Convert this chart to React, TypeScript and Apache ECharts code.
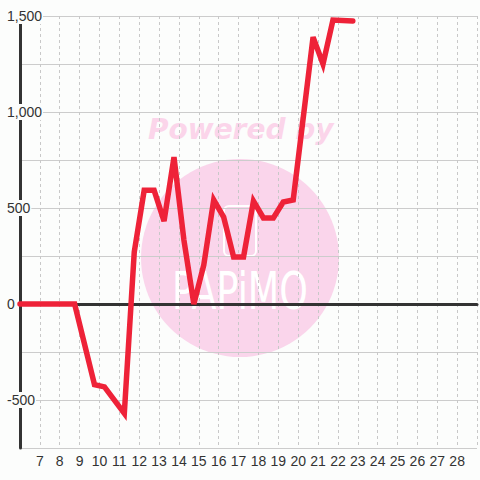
import React, { useEffect, useRef } from "react";
import * as echarts from "echarts";

const xValues = [6, 8.75, 9.75, 10.25, 11.25, 11.75, 12.25, 12.75, 13.25, 13.75, 14.25, 14.75, 15.25, 15.75, 16.25, 16.75, 17.25, 17.75, 18.25, 18.75, 19.25, 19.75, 20.75, 21.25, 21.75, 22.75];
const yValues = [0, 0, -420, -432, -570, 270, 592, 592, 432, 765, 333, 0, 203, 542, 453, 245, 245, 536, 448, 448, 531, 542, 1390, 1250, 1479, 1474];
const yLabelValues = [-500, 0, 500, 1000, 1500];
const xLabelValues = [7, 8, 9, 10, 11, 12, 13, 14, 15, 16, 17, 18, 19, 20, 21, 22, 23, 24, 25, 26, 27, 28];

const BG = "#fcfdfc";

export default function App() {
  const ref = useRef<HTMLDivElement>(null);
  useEffect(() => {
    if (!ref.current) return;
    const chart = echarts.init(ref.current, null, { renderer: "svg" });
    const data = xValues.map((x, i) => [x, yValues[i]]);
    chart.setOption({
      animation: false,
      backgroundColor: BG,
      textStyle: { fontFamily: "Liberation Sans" },
      grid: { left: 20, right: 0, top: 16, bottom: 32, containLabel: false },
      graphic: [
        { type: "circle", z: -1, shape: { cx: 240, cy: 258, r: 99 }, style: { fill: "#fad5eb" } },
        {
          type: "text", z: -1, x: 148, y: 143,
          style: { text: "Powered by", fill: "#fbd5ea", fontSize: 28, fontWeight: "bold", fontStyle: "italic", fontFamily: "DejaVu Sans", verticalAlign: "bottom", align: "left" },
        },
        { type: "rect", z: -1, shape: { x: 224, y: 206, width: 32, height: 50, r: 5 }, style: { fill: "none", stroke: "#ffffff", lineWidth: 2 } },
        {
          type: "text", z: -1, x: 172, y: 317, scaleX: 0.7,
          style: { text: "PAPiMO", fill: "#ffffff", fontSize: 52, fontWeight: "normal", fontFamily: "DejaVu Sans", verticalAlign: "bottom", align: "left" },
        },
      ],
      xAxis: [
        {
          type: "value", min: 6, max: 29, interval: 1, position: "bottom",
          axisLine: { show: false, onZero: false },
          axisTick: { show: false },
          axisLabel: {
            margin: 6, fontSize: 14, color: "#333",
            formatter: (v: number) => (xLabelValues.includes(v) ? String(v) : ""),
          },
          splitLine: { show: true, lineStyle: { color: "#c8c8c8", width: 1, type: [3, 3] } },
        },
        {
          type: "value", min: 6, max: 29, interval: 1,
          axisLine: { show: true, onZero: true, lineStyle: { color: "#333333", width: 3 } },
          axisTick: { show: false },
          axisLabel: { show: false },
          splitLine: { show: false },
        },
      ],
      yAxis: {
        type: "value", min: -750, max: 1500, interval: 250,
        axisLine: { show: true, onZero: false, lineStyle: { color: "#333333", width: 3 } },
        axisTick: { show: false },
        splitLine: { show: true, lineStyle: { color: "#cccccc", width: 1 } },
        axisLabel: {
          align: "left", margin: 14,
          formatter: (v: number) => (yLabelValues.includes(v) ? `{b|${v.toLocaleString("en-US")}}` : ""),
          rich: { b: { fontSize: 14, color: "#333", backgroundColor: BG, padding: [1, 1], fontFamily: "Liberation Sans" } },
        },
      },
      series: [
        {
          type: "line", xAxisIndex: 0, data, symbol: "none", z: 3,
          lineStyle: { color: "#ee2238", width: 5.5, cap: "round", join: "miter" },
        },
      ],
    });
    return () => chart.dispose();
  }, []);
  return <div ref={ref} style={{ position: "absolute", left: 0, top: 0, width: 480, height: 480 }} />;
}
